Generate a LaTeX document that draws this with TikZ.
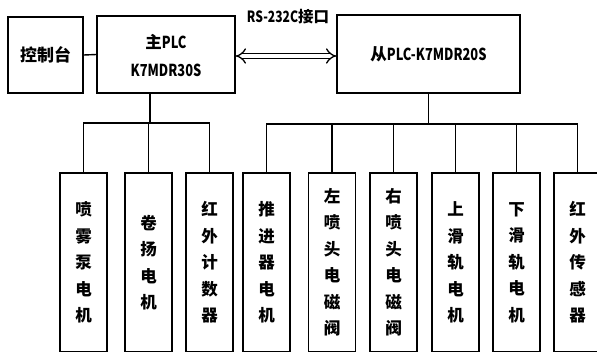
\documentclass[tikz,border=0pt]{standalone}
\usepackage{fontspec}
\setmainfont{Noto Sans CJK SC}
\newfontfamily\narrowfont{Noto Sans CJK SC}[FakeStretch=0.78]
\usetikzlibrary{arrows.meta}
\tikzset{
  blk/.style={draw, line width=1.4pt, inner sep=0pt, align=center},
  dev/.style={blk, minimum width=47pt, minimum height=179pt, font=\bfseries\fontsize{16.5}{26.5}\selectfont},
  wire/.style={line width=1.4pt},
}
\begin{document}
\begin{tikzpicture}[x=1pt,y=-1pt]
\useasboundingbox (0,0) rectangle (597,351);
\begin{scope}
\clip (0,0) rectangle (597,351);
\node[blk, minimum width=75pt, minimum height=76pt, font=\bfseries\fontsize{17}{20}\selectfont] (ctrl) at (45.5,55) {控制台};
\node[blk, minimum width=138pt, minimum height=77pt] (main) at (166,54.5) {};
\node[font=\bfseries\fontsize{16.5}{20}\selectfont] (mainA) at (166,42) {主{\narrowfont PLC}};
\node[font=\bfseries\narrowfont\fontsize{16.5}{20}\selectfont] (mainB) at (166,70) {K7MDR30S};
\node[blk, minimum width=183pt, minimum height=78pt, font=\bfseries\fontsize{16.5}{20}\selectfont] (slave) at (428.5,54) {从{\narrowfont PLC-K7MDR20S}};
\node[font=\bfseries\fontsize{15.5}{18}\selectfont] (rs) at (288,17) {{\narrowfont RS-232C}接口};

\node[dev] (b1) at (83.5,262.5) {喷\\雾\\泵\\电\\机};
\node[dev] (b2) at (148.5,262.5) {卷\\扬\\电\\机};
\node[dev] (b3) at (209.5,262.5) {红\\外\\计\\数\\器};
\node[dev] (b4) at (266.5,262.5) {推\\进\\器\\电\\机};
\node[dev] (b5) at (332,262.5) {左\\喷\\头\\电\\磁\\阀};
\node[dev] (b6) at (393.5,262.5) {右\\喷\\头\\电\\磁\\阀};
\node[dev] (b7) at (455.5,262.5) {上\\滑\\轨\\电\\机};
\node[dev] (b8) at (516.5,262.5) {下\\滑\\轨\\电\\机};
\node[dev] (b9) at (577.5,262.5) {红\\外\\传\\感\\器};

\coordinate (mdrop) at (150,93);
\coordinate (mbus) at (150,123);
\coordinate (sbus) at (428.5,124);

\draw[wire] (ctrl.east) -- (main.west);
\draw[wire] (mdrop) -- (mbus);
\draw[wire] (b1.north) |- (mbus) -| (b3.north);
\draw[wire] (b2.north) -- (b2.north |- mbus);
\draw[wire] (slave.south) -- (sbus);
\draw[wire] (b4.north) |- (sbus) -| (b9.north);
\foreach \b in {b5,b6,b7,b8} \draw[wire] (\b.north) -- (\b.north |- sbus);

\draw[line width=1.3pt, double distance=4pt, {Implies[scale=1.4]}-{Implies[scale=1.4]}] (main.east |- 0,56) -- (slave.west |- 0,56);
\end{scope}
\end{tikzpicture}
\end{document}
